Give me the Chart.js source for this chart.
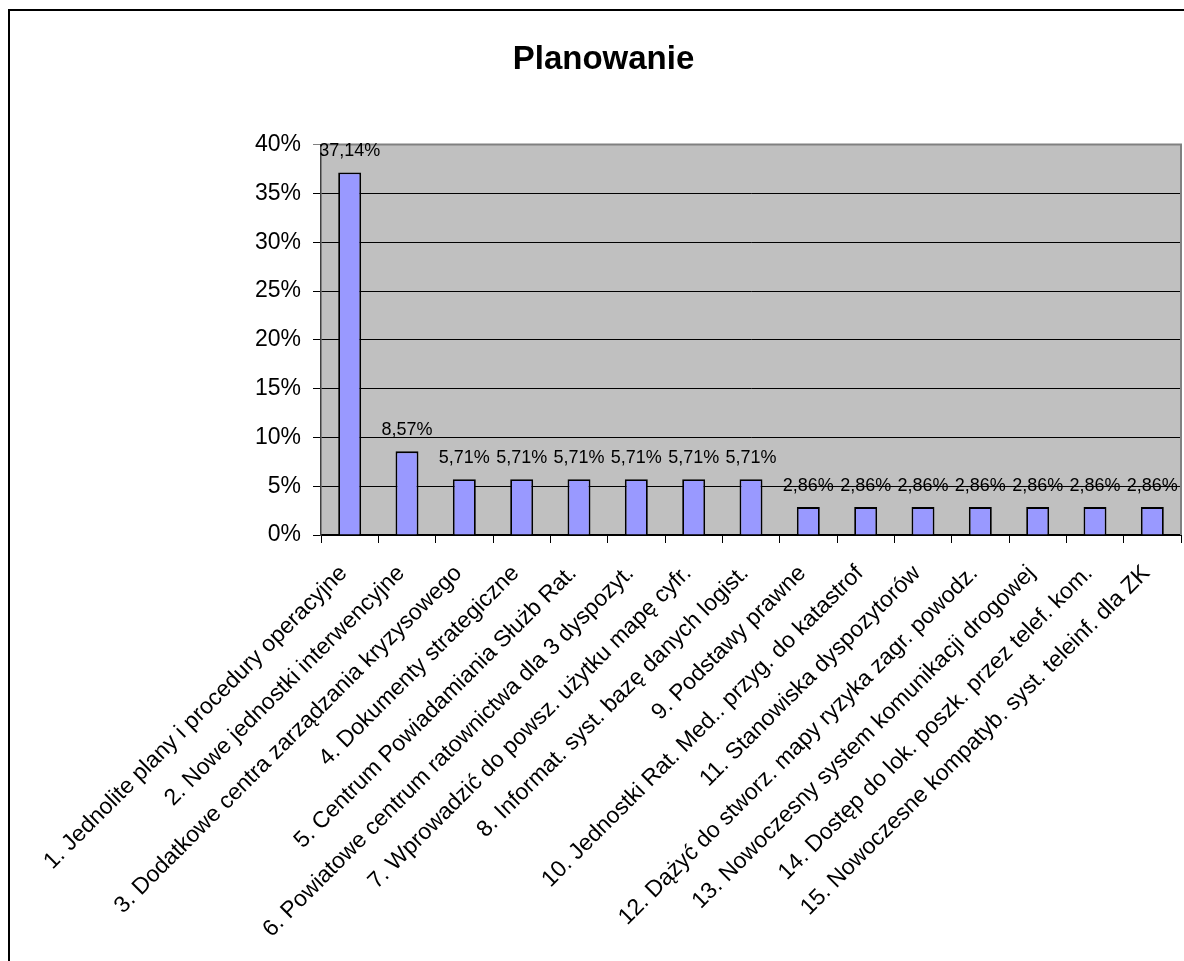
<!DOCTYPE html>
<html>
<head>
<meta charset="utf-8">
<script src="https://cdn.jsdelivr.net/npm/chart.js@4"></script>
<style>
  body { margin: 0; background: #fff; }
</style>
</head>
<body>
<canvas id="planChart" width="1184" height="961"></canvas>
<script>
const categories = [
  "1. Jednolite plany i procedury operacyjne",
  "2. Nowe jednostki interwencyjne",
  "3. Dodatkowe centra zarządzania kryzysowego",
  "4. Dokumenty strategiczne",
  "5. Centrum Powiadamiania Służb Rat.",
  "6. Powiatowe centrum ratownictwa dla 3 dyspozyt.",
  "7. Wprowadzić do powsz. użytku mapę cyfr.",
  "8. Informat. syst. bazę danych logist.",
  "9. Podstawy prawne",
  "10. Jednostki Rat. Med.. przyg. do katastrof",
  "11. Stanowiska dyspozytorów",
  "12. Dążyć do stworz. mapy ryzyka zagr. powodz.",
  "13. Nowoczesny system komunikacji drogowej",
  "14. Dostęp do lok. poszk. przez telef. kom.",
  "15. Nowoczesne kompatyb. syst. teleinf. dla ZK"
];
const shares = [37.14, 8.57, 5.71, 5.71, 5.71, 5.71, 5.71, 5.71, 2.86, 2.86, 2.86, 2.86, 2.86, 2.86, 2.86];
const yTicks = [0, 5, 10, 15, 20, 25, 30, 35, 40];

const fmt = (v) => v.toFixed(2).replace(".", ",") + "%";

// grey plot area, frame and outer border like the Excel original
const excelLook = {
  id: "excelLook",
  beforeDraw(chart) {
    const { ctx, chartArea: a } = chart;
    ctx.save();
    ctx.fillStyle = "#000";
    ctx.fillRect(8, 9, chart.width, 2);
    ctx.fillRect(8, 9, 2, chart.height);
    ctx.fillStyle = "#c0c0c0";
    ctx.fillRect(a.left, a.top, a.right - a.left, a.bottom - a.top);
    ctx.restore();
  },
  beforeDatasetsDraw(chart) {
    const { ctx, chartArea: a } = chart;
    ctx.save();
    ctx.strokeStyle = "#808080";
    ctx.lineWidth = 2;
    ctx.beginPath();
    ctx.moveTo(a.left, a.top);
    ctx.lineTo(a.right, a.top);
    ctx.lineTo(a.right, a.bottom);
    ctx.stroke();
    ctx.restore();
  },
  afterDatasetsDraw(chart) {
    const { ctx } = chart;
    const meta = chart.getDatasetMeta(0);
    ctx.save();
    ctx.font = "18px 'Liberation Sans', Arial, sans-serif";
    ctx.fillStyle = "#000";
    ctx.textAlign = "center";
    ctx.textBaseline = "middle";
    meta.data.forEach((bar, i) => {
      ctx.fillText(fmt(shares[i]), bar.x, bar.y - 21);
    });
    ctx.restore();
  }
};

new Chart(document.getElementById("planChart"), {
  type: "bar",
  data: {
    labels: categories,
    datasets: [
      {
        data: shares,
        backgroundColor: "#9999ff",
        borderColor: "#000",
        borderWidth: 1.8,
        barPercentage: 0.4,
        categoryPercentage: 1
      }
    ]
  },
  options: {
    responsive: false,
    animation: false,
    layout: { padding: { left: 26, right: 3, top: 0, bottom: 0 } },
    plugins: {
      legend: { display: false },
      tooltip: { enabled: false },
      title: {
        display: true,
        text: "Planowanie",
        color: "#000",
        font: { family: "'Liberation Sans', Arial, sans-serif", size: 33, weight: "bold" },
        padding: { top: 40, bottom: 65 }
      }
    },
    scales: {
      x: {
        afterFit: (s) => {
          s.height = 426;
          s.paddingLeft = 0;
          s.paddingRight = 0;
        },
        grid: {
          drawOnChartArea: false,
          drawTicks: true,
          tickLength: 8,
          color: "#000",
          offset: true
        },
        border: { color: "#000", width: 2 },
        ticks: {
          color: "#000",
          autoSkip: false,
          maxRotation: 45,
          minRotation: 45,
          padding: 17,
          labelOffset: -6,
          font: { family: "'Liberation Sans', Arial, sans-serif", size: 23 }
        }
      },
      y: {
        min: 0,
        max: 40,
        afterFit: (s) => { s.width = 295; },
        afterBuildTicks: (s) => { s.ticks = yTicks.map((v) => ({ value: v })); },
        grid: {
          color: (c) => (c.tick && c.tick.value === 40 ? "#808080" : "#000"),
          tickLength: 8
        },
        border: { color: "#404040", width: 1.5 },
        ticks: {
          color: "#000",
          padding: 12,
          callback: (v) => v + "%",
          font: { family: "'Liberation Sans', Arial, sans-serif", size: 23 }
        }
      }
    }
  },
  plugins: [excelLook]
});
</script>
</body>
</html>
